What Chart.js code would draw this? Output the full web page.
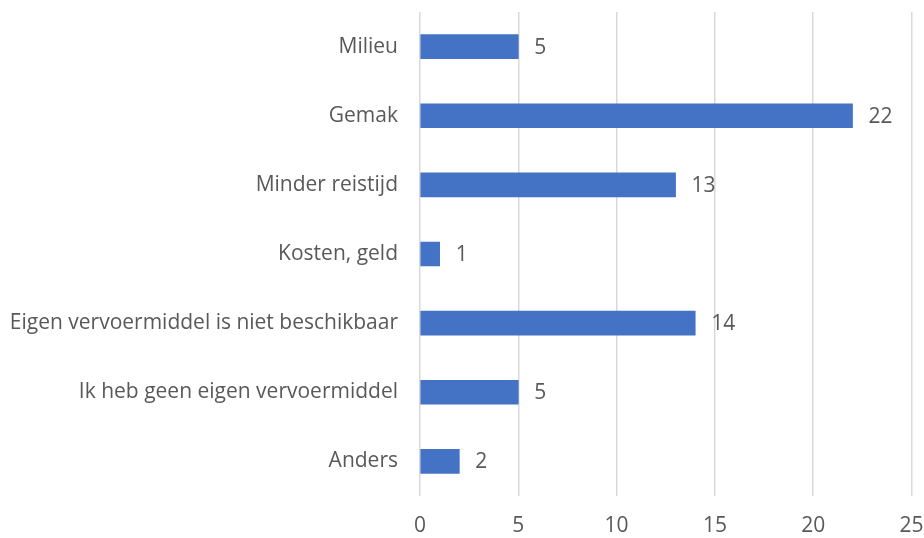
<!DOCTYPE html>
<html>
<head>
<meta charset="utf-8">
<script src="https://cdn.jsdelivr.net/npm/chart.js@4"></script>
<style>
  html, body { margin: 0; padding: 0; background: #fff; }
  #wrap { width: 924px; height: 538px; }
</style>
</head>
<body>
<div id="wrap"><canvas id="chart" width="924" height="538"></canvas></div>
<script>
// Data
const categories = [
  'Milieu',
  'Gemak',
  'Minder reistijd',
  'Kosten, geld',
  'Eigen vervoermiddel is niet beschikbaar',
  'Ik heb geen eigen vervoermiddel',
  'Anders'
];
const counts = [5, 22, 13, 1, 14, 5, 2];
const xTicks = [0, 5, 10, 15, 20, 25];

const textColor = '#595959';
const fontFamily = "'Open Sans', 'Noto Sans', sans-serif";
const fontSize = 21;

// value labels right of each bar
const valueLabels = {
  id: 'valueLabels',
  afterDatasetsDraw(chart) {
    const ctx = chart.ctx;
    const meta = chart.getDatasetMeta(0);
    ctx.save();
    ctx.fillStyle = textColor;
    ctx.font = `${fontSize}px ${fontFamily}`;
    ctx.textAlign = 'left';
    ctx.textBaseline = 'middle';
    meta.data.forEach((bar, i) => {
      ctx.fillText(String(counts[i]), bar.x + 16, bar.y + 1);
    });
    ctx.restore();
  }
};

// drop the extra room chart.js keeps for edge labels
function noPad(axis) {
  axis.paddingTop = 0;
  axis.paddingBottom = 0;
  axis.paddingLeft = 0;
  axis.paddingRight = 0;
}

new Chart(document.getElementById('chart').getContext('2d'), {
  type: 'bar',
  data: {
    labels: categories,
    datasets: [{ data: counts, backgroundColor: '#4472c4', barThickness: 24 }]
  },
  options: {
    indexAxis: 'y',
    responsive: false,
    animation: false,
    layout: { padding: { left: 0, right: 12.5, top: 12, bottom: 0 } },
    plugins: { legend: { display: false }, tooltip: { enabled: false } },
    scales: {
      x: {
        min: 0, max: 25,
        afterBuildTicks: axis => { axis.ticks = xTicks.map(v => ({ value: v })); },
        afterFit: axis => { axis.height = 42; noPad(axis); },
        grid: { color: '#d9d9d9', lineWidth: 1.5, drawTicks: false },
        border: { display: false },
        ticks: { color: textColor, font: { family: fontFamily, size: fontSize }, padding: 17, maxRotation: 0 }
      },
      y: {
        afterFit: axis => { axis.width = 420; noPad(axis); },
        grid: { display: false, drawTicks: false },
        border: { display: false },
        ticks: { color: textColor, font: { family: fontFamily, size: fontSize }, padding: 22 }
      }
    }
  },
  plugins: [valueLabels]
});
</script>
</body>
</html>
